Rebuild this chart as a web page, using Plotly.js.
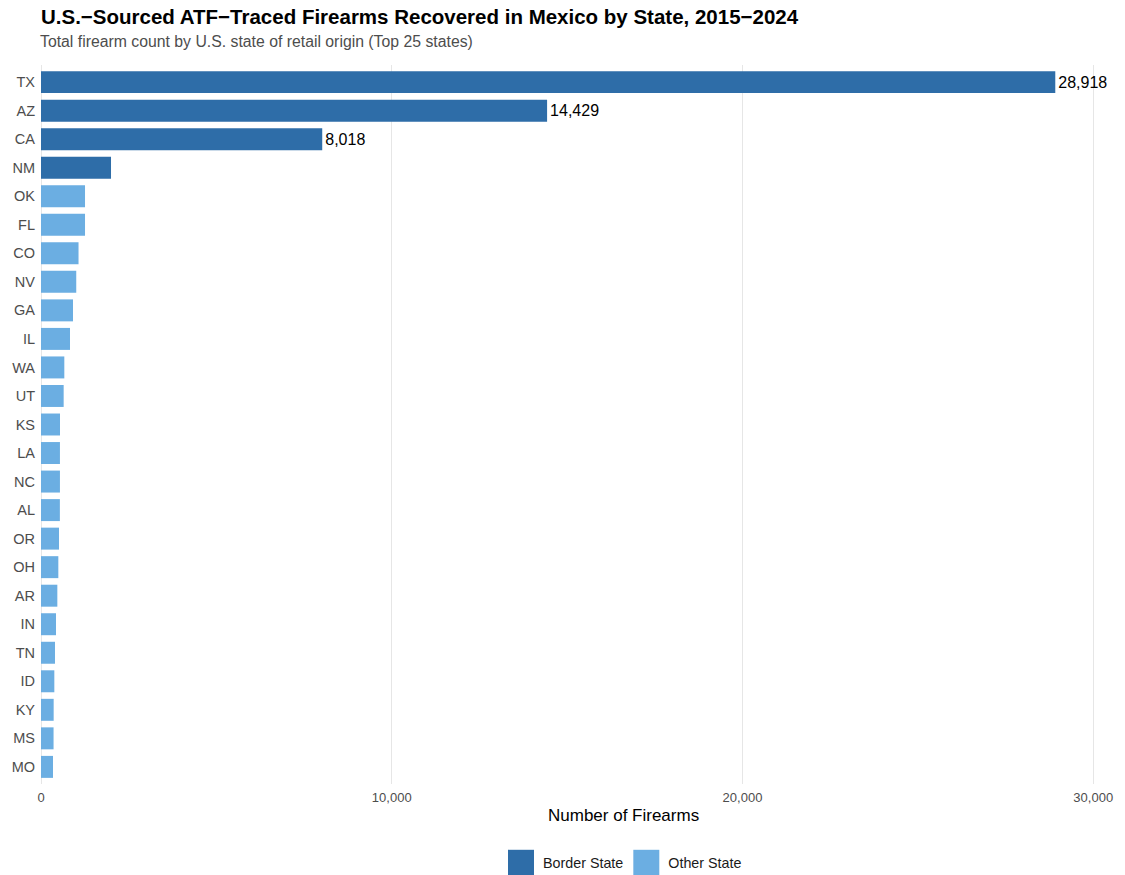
<!DOCTYPE html>
<html>
<head>
<meta charset="utf-8">
<script src="https://cdn.plot.ly/plotly-3.0.1.min.js"></script>
<style>html,body{margin:0;padding:0;background:#fff;}#chart{width:1125px;height:875px;}</style>
</head>
<body>
<div id="chart"></div>
<script>
const states = ["TX","AZ","CA","NM","OK","FL","CO","NV","GA","IL","WA","UT","KS","LA","NC","AL","OR","OH","AR","IN","TN","ID","KY","MS","MO"];
const firearms = [28918,14429,8018,1996,1255,1255,1070,1005,912,827,665,646,542,540,540,538,513,494,466,428,399,380,361,358,342];
const borderStates = ["TX","AZ","CA","NM"];
const groupNames = ["Border State","Other State"];
const groupColors = ["#2E6DA8","#6BAEE2"];
const labelThreshold = 5000;

const fmt = v => v.toLocaleString("en-US");

const traces = groupNames.map((name, gi) => {
  const ys = [], xs = [], txt = [];
  states.forEach((s, i) => {
    const isBorder = borderStates.includes(s);
    if ((gi === 0) === isBorder) {
      ys.push(s); xs.push(firearms[i]);
      txt.push(firearms[i] >= labelThreshold ? fmt(firearms[i]) : "");
    }
  });
  return {
    type: "bar", orientation: "h", name: name,
    x: xs, y: ys, text: txt, textposition: "outside",
    textfont: {size: 16, color: "#000"},
    cliponaxis: false, width: 0.77,
    marker: {color: groupColors[gi], line: {width: 0}},
    hoverinfo: "x+y"
  };
});

const layout = {
  width: 1125, height: 875,
  margin: {l: 41, r: 19, t: 65, b: 91},
  paper_bgcolor: "#fff", plot_bgcolor: "#fff",
  font: {family: "Liberation Sans, Arial, sans-serif", color: "#4d4d4d"},
  barmode: "overlay",
  title: {
    text: "<b>U.S.\u2212Sourced ATF\u2212Traced Firearms Recovered in Mexico by State, 2015\u22122024</b>",
    font: {size: 20.5, color: "#000"},
    xref: "paper", x: 0, xanchor: "left",
    yref: "container", y: 1 - 17/875, yanchor: "middle"
  },
  annotations: [
    {text: "Total firearm count by U.S. state of retail origin (Top 25 states)",
     xref: "paper", x: 0, xanchor: "left", xshift: -3, yref: "paper", y: 1 + 23/719, yanchor: "middle",
     showarrow: false, font: {size: 15.8, color: "#4d4d4d"}},
    {text: "Number of Firearms", xref: "paper", x: (623 - 41)/1065, xanchor: "center",
     yref: "paper", y: -31/719, yanchor: "middle", showarrow: false,
     font: {size: 17, color: "#000"}}
  ],
  xaxis: {
    range: [0, 30364], tickvals: [0,10000,20000,30000], ticktext: ["0","10,000","20,000","30,000"],
    showgrid: true, gridcolor: "#e6e6e6", gridwidth: 1,
    zeroline: true, zerolinecolor: "#e6e6e6", zerolinewidth: 1,
    showline: false, ticks: "", tickfont: {size: 13, color: "#4d4d4d"},
    ticklabelstandoff: 4, fixedrange: true
  },
  yaxis: {
    type: "category", categoryorder: "array", categoryarray: states,
    range: [24.6, -0.6], showgrid: false, zeroline: false, showline: false,
    ticks: "", tickfont: {size: 14.5, color: "#4d4d4d"}, ticklabelstandoff: 5, fixedrange: true
  },
  showlegend: true,
  legend: {
    orientation: "h", xref: "paper", x: (503 - 41)/1065, xanchor: "left",
    yref: "container", y: 1 - 863/875, yanchor: "middle",
    font: {size: 14.3, color: "#1a1a1a"}, itemclick: false, traceorder: "normal"
  }
};

Plotly.newPlot("chart", traces, layout, {displayModeBar: false, staticPlot: true}).then(() => {
  document.querySelectorAll(".legend .legendpoints path").forEach(p => {
    p.removeAttribute("transform");
    p.setAttribute("d", "M31,13H5V-13H31Z");
  });
});
</script>
</body>
</html>
